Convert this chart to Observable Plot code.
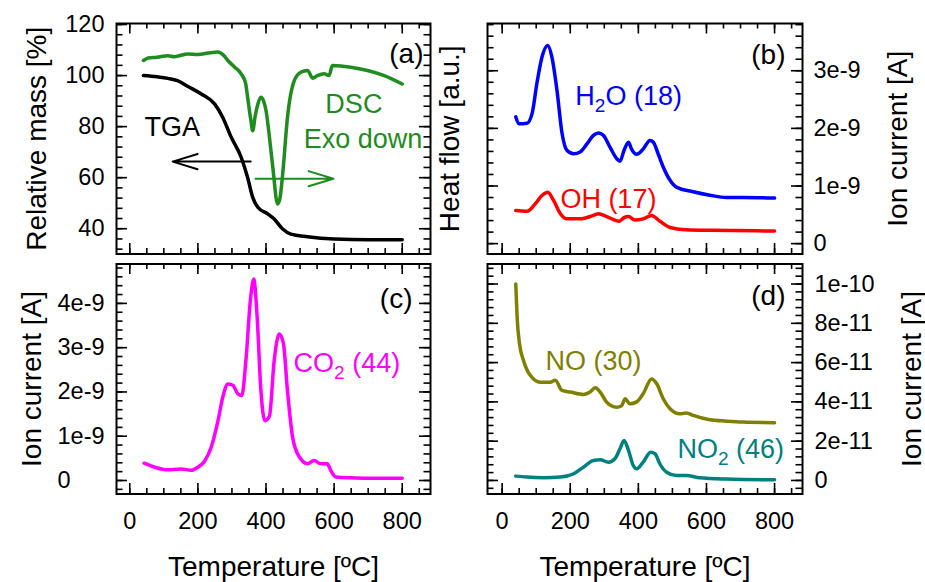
<!DOCTYPE html>
<html>
<head>
<meta charset="utf-8">
<script src="https://cdn.jsdelivr.net/npm/d3@7"></script>
<script src="https://cdn.jsdelivr.net/npm/@observablehq/plot@0.6"></script>
<style>
  body { margin: 0; background: #fff; }
  #chart { position: relative; width: 925px; height: 582px; }
  #chart svg { position: absolute; left: 0; top: 0; overflow: visible; }
</style>
</head>
<body>
<div id="chart"></div>
<script>
// ---------------- DATA ----------------
// Panel (a): TGA (relative mass, %) and DSC (heat flow, arbitrary units plotted on same axis)
const tgaT = [40, 80, 112, 140, 171, 210, 249, 273, 298, 327, 346, 361, 376, 405, 424, 449, 473, 522, 600, 700, 800];
const tgaV = [100, 99.5, 98.9, 98, 95.7, 92.8, 88.9, 83.6, 75.8, 68, 60.1, 52.3, 48.4, 45.8, 43.8, 39.9, 37.9, 36.9, 36.0, 35.7, 35.7];
const dscT = [40, 54, 80, 112, 131, 171, 200, 229, 259, 275, 288, 308, 327, 340, 346, 355, 361, 368, 376, 385, 393, 400, 410, 420, 434, 441, 449, 463, 483, 502, 522, 537, 551, 571, 585, 595, 649, 698, 747, 800];
const dscV = [105.9, 106.9, 107.2, 107.8, 107.4, 108.5, 108.3, 108.8, 109.2, 108, 105.9, 103.3, 100.7, 97, 91.5, 83, 78.4, 84, 88.8, 91.5, 90, 86.3, 76, 64, 49.7, 52, 61.5, 83.6, 98, 101.3, 102, 99, 100, 100.7, 100, 103.9, 103.3, 102, 100, 96.7];

// Panel (b): ion current, units of 1e-9 A
const h2oT = [40, 49, 73, 88, 102, 117, 134, 146, 161, 176, 190, 210, 229, 249, 268, 283, 297, 317, 337, 346, 358, 371, 380, 395, 414, 434, 444, 458, 473, 493, 512, 561, 610, 659, 707, 800];
const h2oV = [2.20, 2.08, 2.09, 2.26, 2.78, 3.24, 3.44, 3.24, 2.66, 1.91, 1.62, 1.56, 1.59, 1.73, 1.88, 1.92, 1.88, 1.67, 1.47, 1.43, 1.62, 1.76, 1.64, 1.55, 1.64, 1.79, 1.76, 1.56, 1.33, 1.10, 0.98, 0.90, 0.84, 0.80, 0.80, 0.79];
const ohT = [40, 73, 97, 117, 134, 151, 171, 190, 229, 268, 283, 307, 344, 358, 371, 390, 414, 439, 463, 493, 541, 610, 800];
const ohV = [0.574, 0.56, 0.69, 0.835, 0.89, 0.75, 0.52, 0.43, 0.43, 0.49, 0.52, 0.47, 0.39, 0.45, 0.47, 0.41, 0.43, 0.49, 0.39, 0.28, 0.24, 0.23, 0.22];

// Panel (c): ion current, units of 1e-9 A
const co2T = [42, 73, 112, 151, 181, 200, 220, 239, 259, 273, 288, 303, 317, 329, 341, 354, 364, 374, 385, 397, 410, 424, 439, 451, 463, 478, 498, 522, 541, 561, 580, 590, 605, 649, 698, 800];
const co2V = [0.39, 0.30, 0.24, 0.26, 0.23, 0.30, 0.44, 0.75, 1.35, 1.88, 2.18, 2.15, 1.96, 1.92, 2.71, 4.06, 4.55, 3.69, 2.03, 1.35, 1.45, 2.71, 3.31, 3.1, 2.03, 0.98, 0.53, 0.38, 0.45, 0.38, 0.38, 0.23, 0.08, 0.06, 0.05, 0.05];

// Panel (d): ion current, units of 1e-11 A
const noT = [40, 44, 51, 63, 83, 112, 141, 156, 176, 200, 239, 258, 273, 288, 307, 336, 351, 361, 375, 395, 414, 439, 454, 473, 493, 522, 541, 561, 610, 659, 707, 800];
const noV = [10.0, 8.31, 6.96, 6.1, 5.34, 5.0, 5.0, 5.1, 4.58, 4.5, 4.38, 4.5, 4.72, 4.5, 3.98, 3.73, 3.8, 4.16, 3.9, 4.0, 4.41, 5.17, 4.92, 4.16, 3.65, 3.39, 3.44, 3.31, 3.09, 3.02, 2.97, 2.94];
const no2T = [40, 73, 122, 171, 210, 239, 268, 288, 312, 331, 346, 358, 371, 385, 395, 414, 436, 449, 463, 483, 512, 541, 580, 659, 800];
const no2V = [0.22, 0.17, 0.14, 0.17, 0.34, 0.68, 1.02, 1.05, 0.93, 1.1, 1.61, 2.04, 1.53, 0.76, 0.59, 0.93, 1.44, 1.36, 0.85, 0.42, 0.25, 0.25, 0.14, 0.07, 0.03];

// Tick values and labels
const xTickLabels = [0, 200, 400, 600, 800];
const aYTicks = [40, 60, 80, 100, 120];
const bYTicks = [0, 1, 2, 3];            // x 1e-9
const bYLabels = ["0", "1e-9", "2e-9", "3e-9"];
const cYTicks = [0, 1, 2, 3, 4];         // x 1e-9
const cYLabels = ["0", "1e-9", "2e-9", "3e-9", "4e-9"];
const dYTicks = [0, 2, 4, 6, 8, 10];     // x 1e-11
const dYLabels = ["0", "2e-11", "4e-11", "6e-11", "8e-11", "1e-10"];

// Annotation arrows in panel (a) (data coordinates)
const arrowsA = [
  {x1: 355, x2: 126, y: 66.3, color: "black"},
  {x1: 369, x2: 598, y: 59.6, color: "#1e8c1e"}
];

// ---------------- STYLE / LAYOUT ----------------
const C = {green: "#1e8c1e", blue: "#0000ff", red: "#ff0000", magenta: "#ff00ff", olive: "#808000", teal: "#008080"};
const FONT = "'Liberation Sans', Arial, Helvetica, sans-serif";
const W = 925, H = 582;
const boxes = {
  a: {left: 116, right: 430, top: 23, bottom: 253.5},
  b: {left: 487, right: 802, top: 23, bottom: 253.5},
  c: {left: 116, right: 430, top: 263.5, bottom: 493.5},
  d: {left: 487, right: 802, top: 263.5, bottom: 493.5}
};
const xDomLeft = [-39, 883], xDomRight = [-43, 882];

const series = (T, V) => T.map((t, i) => ({T: t, v: V[i]}));
const fmt = (ticks, labels) => d => labels[ticks.indexOf(d)];

// Inward ticks on all four sides, drawn as rules spanning only a few pixels of the frame
function tickMarks(box, xMajor, xMinor, yMajor, yMinor) {
  const pw = box.right - box.left, ph = box.bottom - box.top;
  const st = {stroke: "black", strokeWidth: 1.6};
  const xt = (data, len) => [
    Plot.ruleX(data, {x: d => d, ...st, insetTop: ph - len}),
    Plot.ruleX(data, {x: d => d, ...st, insetBottom: ph - len})
  ];
  const yt = (data, len) => [
    Plot.ruleY(data, {y: d => d, ...st, insetRight: pw - len}),
    Plot.ruleY(data, {y: d => d, ...st, insetLeft: pw - len})
  ];
  return [...xt(xMinor, 5.5), ...xt(xMajor, 10.5), ...yt(yMinor, 6.5), ...yt(yMajor, 11)];
}

const xMajor = d3.range(0, 801, 200);
const xMinor = d3.range(0, 851, 50);

function line(T, V, color) {
  return Plot.line(series(T, V), {x: "T", y: "v", stroke: color, strokeWidth: 3.5, curve: "monotone-x", strokeLinejoin: "round", strokeLinecap: "round"});
}
function note(T, v, text, color, anchor = "start", size = 27) {
  return Plot.text([{T, v, text}], {x: "T", y: "v", text: "text", fill: color, textAnchor: anchor, lineAnchor: "bottom", fontSize: size});
}
function letter(text, dx, dy) {
  return Plot.text([text], {text: d => d, frameAnchor: "top-right", dx, dy, textAnchor: "end", lineAnchor: "bottom", fontSize: 28, fill: "black"});
}
function vtitle(text, side, dx) {
  return Plot.text([text], {text: d => d, frameAnchor: side, rotate: -90, dx, textAnchor: "middle", lineAnchor: "bottom", fontSize: 28, fill: "black"});
}
function xtitle() {
  return Plot.text(["Temperature [ºC]"], {text: d => d, frameAnchor: "bottom", dy: 81.5, textAnchor: "middle", lineAnchor: "bottom", fontSize: 28, fill: "black"});
}

function panel(box, xDomain, yDomain, marks) {
  return Plot.plot({
    width: W, height: H,
    marginLeft: box.left, marginRight: W - box.right, marginTop: box.top, marginBottom: H - box.bottom,
    x: {domain: xDomain, axis: null},
    y: {domain: yDomain, axis: null},
    style: {fontFamily: FONT, fontSize: "23.5px", background: "transparent", color: "black", overflow: "visible"},
    marks
  });
}

const chart = document.getElementById("chart");

// Panel (a)
const pa = panel(boxes.a, xDomLeft, [30.1, 120.4], [
  ...tickMarks(boxes.a, xMajor, xMinor, aYTicks, d3.range(32, 121, 4)),
  Plot.axisY(aYTicks, {anchor: "left", tickSize: 0, tickPadding: 12, label: null}),
  line(dscT, dscV, C.green),
  line(tgaT, tgaV, "black"),
  Plot.arrow(arrowsA, {x1: "x1", x2: "x2", y1: "y", y2: "y", stroke: "color", strokeWidth: 2, headLength: 32, headAngle: 34}),
  note(43, 76.5, "TGA", "black", "start"),
  note(658, 85.5, "DSC", C.green, "middle"),
  note(685, 71.8, "Exo down", C.green, "middle"),
  letter("(a)", -7, 39),
  vtitle("Relative mass [%]", "left", -71),
  vtitle("Heat flow [a.u.]", "right", 28),
  Plot.frame({stroke: "black", strokeWidth: 2})
]);

// Panel (b)
const pb = panel(boxes.b, xDomRight, [-0.18, 3.82], [
  ...tickMarks(boxes.b, xMajor, xMinor, bYTicks, d3.range(0, 3.81, 0.2).map(d => +d.toFixed(2))),
  Plot.axisY(bYTicks, {anchor: "right", tickSize: 0, tickPadding: 11, tickFormat: fmt(bYTicks, bYLabels), label: null}),
  line(ohT, ohV, C.red),
  line(h2oT, h2oV, C.blue),
  note(215, 2.40, "H2O (18)", C.blue),
  note(171, 0.626, "OH (17)", C.red),
  letter("(b)", -17, 40),
  vtitle("Ion current [A]", "right", 104),
  Plot.frame({stroke: "black", strokeWidth: 2})
]);

// Panel (c)
const pc = panel(boxes.c, xDomLeft, [-0.305, 4.89], [
  ...tickMarks(boxes.c, xMajor, xMinor, cYTicks, d3.range(-0.2, 4.81, 0.2).map(d => +d.toFixed(2))),
  Plot.axisY(cYTicks, {anchor: "left", tickSize: 0, tickPadding: 59, textAnchor: "start", tickFormat: fmt(cYTicks, cYLabels), label: null}),
  Plot.axisX(xTickLabels, {anchor: "bottom", tickSize: 0, tickPadding: 18, label: null}),
  line(co2T, co2V, C.magenta),
  note(481, 2.44, "CO2 (44)", C.magenta),
  letter("(c)", -18, 43.5),
  vtitle("Ion current [A]", "left", -76),
  xtitle(),
  Plot.frame({stroke: "black", strokeWidth: 2})
]);

// Panel (d)
const pd = panel(boxes.d, xDomRight, [-0.69, 11.02], [
  ...tickMarks(boxes.d, xMajor, xMinor, dYTicks, d3.range(-0.4, 10.81, 0.4).map(d => +d.toFixed(2))),
  Plot.axisY(dYTicks, {anchor: "right", tickSize: 0, tickPadding: 12, tickFormat: fmt(dYTicks, dYLabels), label: null}),
  Plot.axisX(xTickLabels, {anchor: "bottom", tickSize: 0, tickPadding: 18, label: null}),
  line(no2T, no2V, C.teal),
  line(noT, noV, C.olive),
  note(127, 5.6, "NO (30)", C.olive),
  note(515, 1.12, "NO2 (46)", C.teal),
  letter("(d)", -17, 40.5),
  vtitle("Ion current [A]", "right", 118),
  xtitle(),
  Plot.frame({stroke: "black", strokeWidth: 2})
]);

[pa, pb, pc, pd].forEach(svg => chart.appendChild(svg));

// Subscripts for chemical formulas (real text with tspans)
const subs = {"H2O (18)": ["H", "2", "O (18)"], "CO2 (44)": ["CO", "2", " (44)"], "NO2 (46)": ["NO", "2", " (46)"]};
d3.select(chart).selectAll("text").each(function () {
  const s = this.textContent;
  if (!subs[s]) return;
  const target = this.querySelector("tspan") ? d3.select(this).select("tspan") : d3.select(this);
  const [a, b, c] = subs[s];
  target.text(null);
  target.append("tspan").text(a);
  target.append("tspan").attr("dy", 7).attr("font-size", 19).text(b);
  target.append("tspan").attr("dy", -7).text(c);
});
</script>
</body>
</html>
